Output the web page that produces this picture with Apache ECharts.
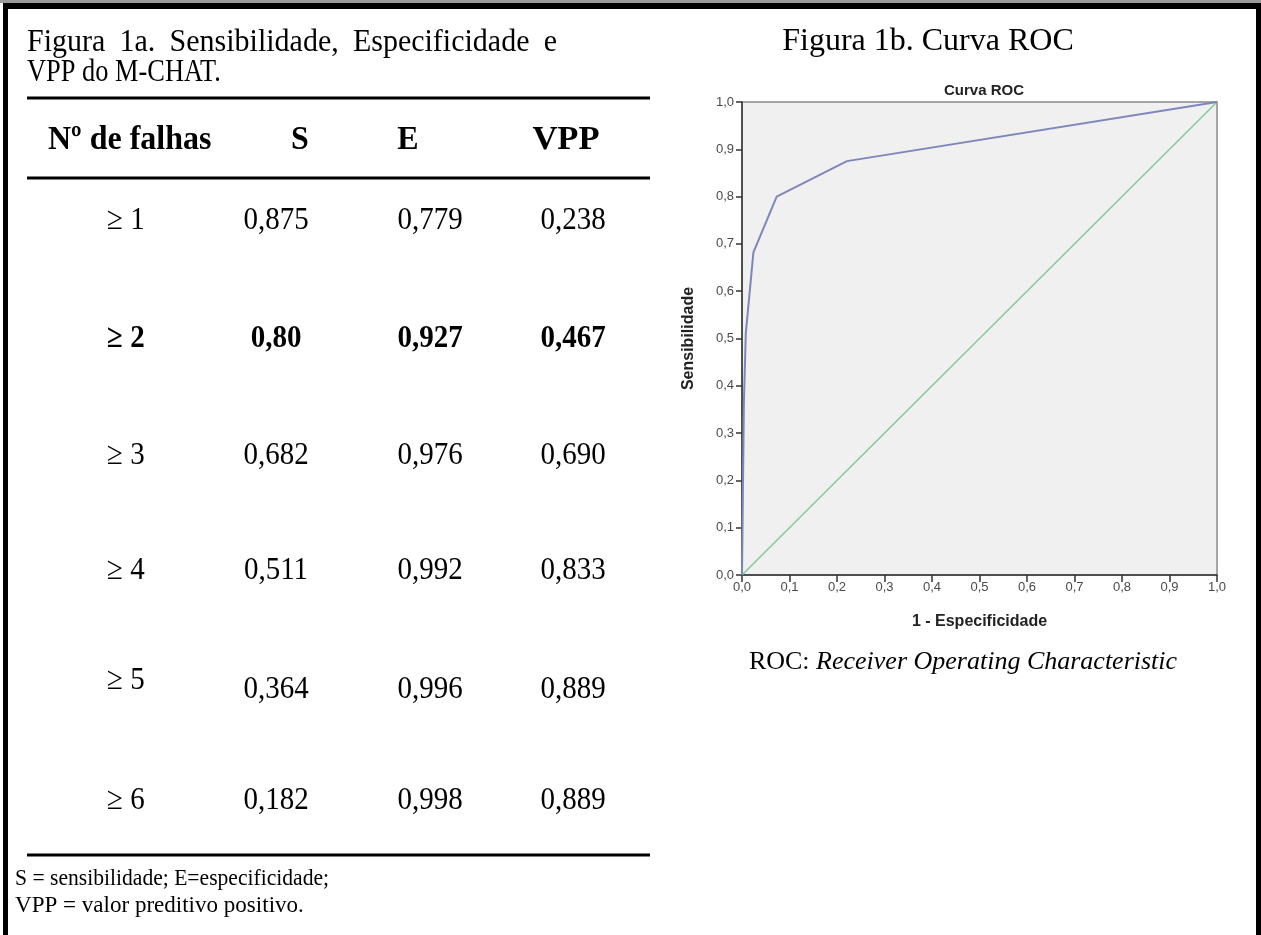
<!DOCTYPE html>
<html>
<head>
<meta charset="utf-8">
<script src="https://cdn.jsdelivr.net/npm/echarts@6/dist/echarts.min.js"></script>
<style>
html,body{margin:0;padding:0;background:#fff;}
#c{width:1261px;height:935px;}
</style>
</head>
<body>
<div id="c"></div>
<script>
// ---- Table data (Figura 1a) ----
const rowLabels = ['≥ 1', '≥ 2', '≥ 3', '≥ 4', '≥ 5', '≥ 6'];
const sensLabels = ['0,875', '0,80', '0,682', '0,511', '0,364', '0,182'];
const especLabels = ['0,779', '0,927', '0,976', '0,992', '0,996', '0,998'];
const vppLabels = ['0,238', '0,467', '0,690', '0,833', '0,889', '0,889'];
const headerLabels = ['Nº de falhas', 'S', 'E', 'VPP'];
const boldRow = 1;

// ---- ROC data (Figura 1b) ----
const rocFpr = [0, 0.002, 0.004, 0.008, 0.024, 0.073, 0.221, 1];
const rocTpr = [0, 0.182, 0.364, 0.511, 0.682, 0.80, 0.875, 1];
const refFpr = [0, 1];
const refTpr = [0, 1];
const tickValues = [0, 0.1, 0.2, 0.3, 0.4, 0.5, 0.6, 0.7, 0.8, 0.9, 1.0];
const tickLabels = ['0,0', '0,1', '0,2', '0,3', '0,4', '0,5', '0,6', '0,7', '0,8', '0,9', '1,0'];

function tickFmt(v) {
  for (let i = 0; i < tickValues.length; i++) {
    if (Math.abs(tickValues[i] - v) < 1e-6) return tickLabels[i];
  }
  return '';
}

const SERIF = '"Liberation Serif","Times New Roman",serif';

function txt(text, x, y, opts) {
  opts = opts || {};
  return {
    type: 'text',
    silent: true,
    x: x, y: y,
    scaleX: opts.sx || 1,
    scaleY: opts.sy || 1,
    style: {
      text: text,
      x: 0, y: 0,
      fontFamily: SERIF,
      fontSize: opts.size || 30,
      fontWeight: opts.bold ? 'bold' : 'normal',
      fontStyle: opts.italic ? 'italic' : 'normal',
      fill: '#000',
      align: opts.align || 'left',
      textAlign: opts.align || 'left',
      verticalAlign: 'middle',
      textVerticalAlign: 'middle',
      rich: opts.rich
    }
  };
}
function hline(x1, x2, y, w) {
  return { type: 'line', silent: true, shape: { x1: x1, y1: y, x2: x2, y2: y },
           style: { stroke: '#000', lineWidth: w || 3 } };
}
// justified line: words spread between x0 and x1
function justified(words, x0, x1, y, size, sy) {
  const ctx = document.createElement('canvas').getContext('2d');
  ctx.font = size + 'px ' + SERIF;
  const widths = words.map(w => ctx.measureText(w).width);
  const total = widths.reduce((a, b) => a + b, 0);
  const gap = (x1 - x0 - total) / (words.length - 1);
  const out = [];
  let x = x0;
  words.forEach((w, i) => {
    out.push(txt(w, x, y, { size: size, sy: sy }));
    x += widths[i] + gap;
  });
  return out;
}

const graphics = [];
// frame
graphics.push({ type: 'rect', silent: true, shape: { x: 0, y: 0, width: 1261, height: 3 }, style: { fill: '#9a9a9a' } });
graphics.push({ type: 'rect', silent: true, shape: { x: 3, y: 3, width: 1258, height: 6 }, style: { fill: '#000' } });
graphics.push({ type: 'rect', silent: true, shape: { x: 3, y: 3, width: 5, height: 932 }, style: { fill: '#000' } });
graphics.push({ type: 'rect', silent: true, shape: { x: 1256, y: 3, width: 5, height: 932 }, style: { fill: '#000' } });

// left title (justified first line)
justified(['Figura', '1a.', 'Sensibilidade,', 'Especificidade', 'e'], 27, 557, 42, 30, 1.08)
  .forEach(g => graphics.push(g));
graphics.push(txt('VPP do M-CHAT.', 27, 72, { size: 30, sy: 1.08, sx: 0.88 }));
graphics.push(hline(27, 650, 98));
// header
graphics.push(txt(headerLabels[0], 48, 140, { bold: true, size: 32, sy: 1.08 }));
graphics.push(txt(headerLabels[1], 300, 140, { bold: true, size: 32, align: 'center', sy: 1.08 }));
graphics.push(txt(headerLabels[2], 408, 140, { bold: true, size: 32, align: 'center', sy: 1.08 }));
graphics.push(txt(headerLabels[3], 566, 140, { bold: true, size: 32, align: 'center', sy: 1.08, sx: 1.08 }));
graphics.push(hline(27, 650, 178));
// rows
const rowY = [220, 339, 455, 570, 689, 800];
const labelY = [220, 339, 455, 570, 680, 800];
for (let i = 0; i < rowLabels.length; i++) {
  const b = i === boldRow;
  graphics.push(txt(rowLabels[i], 107, labelY[i], { bold: b, size: 29, sy: 1.12 }));
  graphics.push(txt(sensLabels[i], 276, rowY[i], { bold: b, size: 29, sy: 1.12, align: 'center' }));
  graphics.push(txt(especLabels[i], 430, rowY[i], { bold: b, size: 29, sy: 1.12, align: 'center' }));
  graphics.push(txt(vppLabels[i], 573, rowY[i], { bold: b, size: 29, sy: 1.12, align: 'center' }));
}
graphics.push(hline(27, 650, 855));
graphics.push(txt('S = sensibilidade; E=especificidade;', 15, 879, { size: 24, sx: 0.9 }));
graphics.push(txt('VPP = valor preditivo positivo.', 15, 906, { size: 24, sx: 0.96 }));

// right titles
graphics.push(txt('Figura 1b. Curva ROC', 928, 42, { align: 'center', size: 32 }));
graphics.push(txt('{n|ROC: }{i|Receiver Operating Characteristic}', 963, 662, {
  align: 'center',
  rich: {
    n: { fontFamily: SERIF, fontSize: 26, fill: '#000', color: '#000' },
    i: { fontFamily: SERIF, fontSize: 26, fontStyle: 'italic', fill: '#000', color: '#000' }
  }
}));

const chart = echarts.init(document.getElementById('c'), null, { renderer: 'canvas' });
const SANS = 'Arial, "Liberation Sans", Helvetica, sans-serif';
chart.setOption({
  animation: false,
  backgroundColor: '#fff',
  title: {
    text: 'Curva ROC', left: 979, top: 78, textAlign: 'center',
    textStyle: { fontFamily: SANS, fontSize: 15, fontWeight: 'bold', color: '#222' }
  },
  grid: {
    left: 742, top: 102, width: 475, height: 473,
    show: true, backgroundColor: '#f0f0f0', borderColor: '#8a8a8a', borderWidth: 1.5
  },
  xAxis: {
    type: 'value', min: 0, max: 1, interval: 0.1,
    name: '1 - Especificidade', nameLocation: 'middle', nameGap: 39,
    nameTextStyle: { fontFamily: SANS, fontSize: 16, fontWeight: 'bold', color: '#222' },
    axisLine: { show: true, lineStyle: { color: '#333', width: 1.5 } },
    axisTick: { show: true, length: 7, lineStyle: { color: '#333', width: 1.5 } },
    axisLabel: { formatter: tickFmt, color: '#4a4a4a', fontFamily: SANS, fontSize: 13, margin: 6 },
    splitLine: { show: false }
  },
  yAxis: {
    type: 'value', min: 0, max: 1, interval: 0.1,
    name: 'Sensibilidade', nameLocation: 'middle', nameGap: 45,
    nameTextStyle: { fontFamily: SANS, fontSize: 16, fontWeight: 'bold', color: '#222' },
    axisLine: { show: true, lineStyle: { color: '#333', width: 1.5 } },
    axisTick: { show: true, length: 6, lineStyle: { color: '#333', width: 1.5 } },
    axisLabel: { formatter: tickFmt, color: '#4a4a4a', fontFamily: SANS, fontSize: 13, margin: 8 },
    splitLine: { show: false }
  },
  series: [
    {
      type: 'line', name: 'Referência', symbol: 'none', silent: true,
      data: refFpr.map((x, i) => [x, refTpr[i]]),
      lineStyle: { color: '#82c99b', width: 1.5 }
    },
    {
      type: 'line', name: 'ROC', symbol: 'none', silent: true,
      data: rocFpr.map((x, i) => [x, rocTpr[i]]),
      lineStyle: { color: '#7f87ba', width: 2 }
    }
  ],
  graphic: { elements: graphics }
});
</script>
</body>
</html>
